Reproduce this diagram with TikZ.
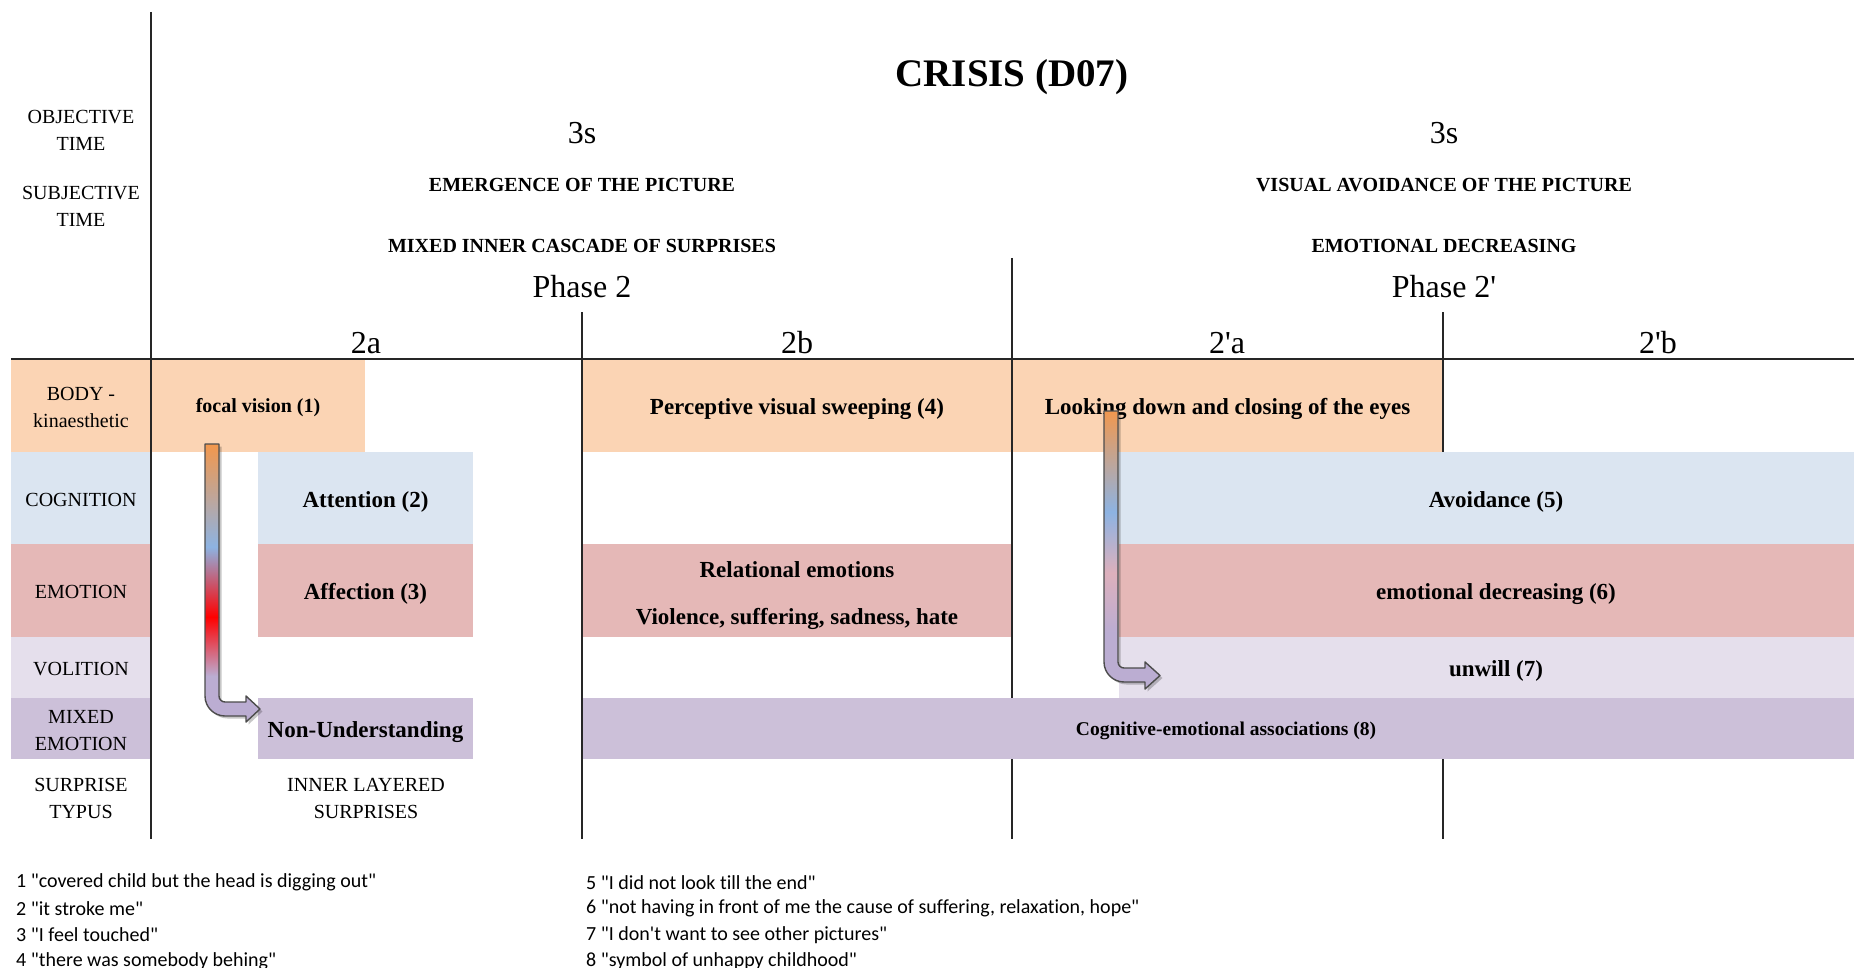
\documentclass[tikz,border=0pt]{standalone}
\usepackage{fontspec}
\setmainfont{Liberation Serif}[Ligatures=TeXOff]
\newfontfamily\notefont{Carlito}[Ligatures={TeXOff,NoCommon}]
\definecolor{bodyc}{HTML}{FBD4B4}
\definecolor{cogc}{HTML}{DBE5F1}
\definecolor{emoc}{HTML}{E5B8B7}
\definecolor{volc}{HTML}{E5DFEC}
\definecolor{mixc}{HTML}{CCC0D9}
\definecolor{arrorange}{HTML}{F79646}
\definecolor{arrblue}{HTML}{8DB3E2}
\definecolor{arrred}{HTML}{FF0000}
\definecolor{arrlav}{HTML}{BBADD2}
\definecolor{arrpink}{HTML}{DDB0BC}
\definecolor{linec}{HTML}{262626}
\def\arrowApath{(205,444) -- (219,444) -- (219,696) .. controls (219,699.3) and (221.7,702) .. (225,702) -- (246,702) -- (246,696) -- (260,709) -- (246,722) -- (246,716) -- (225,716) .. controls (214,716) and (205,707) .. (205,696) -- cycle}
\def\arrowBpath{(1104,411) -- (1118,411) -- (1118,662) .. controls (1118,665.3) and (1120.7,668) .. (1124,668) -- (1145,668) -- (1145,662) -- (1160,675.5) -- (1145,689) -- (1145,682) -- (1124,682) .. controls (1113,682) and (1104,673) .. (1104,662) -- cycle}
\begin{document}
\begin{tikzpicture}[x=1pt,y=-1pt,
  cell/.style={inner sep=0pt, outer sep=0pt, align=center, text=black},
  band/.style={cell, draw=none},
  lab/.style={cell, font=\fontsize{20}{27}\selectfont},
  rowlab/.style={lab, text height=16pt, text depth=0pt},
  rowlabtwo/.style={lab, text height=43pt, text depth=0pt},
  boldt/.style={cell, font=\fontsize{23}{47}\selectfont\bfseries, text height=20pt, text depth=2pt},
  boldtwo/.style={cell, font=\fontsize{23}{47}\selectfont\bfseries, text height=73pt, text depth=5pt},
  smallbold/.style={cell, font=\fontsize{20}{24}\selectfont\bfseries, text height=17pt, text depth=2.6pt},
  hdr/.style={cell, font=\fontsize{20}{24}\selectfont\bfseries},
  big/.style={cell, font=\fontsize{32}{36}\selectfont},
  note/.style={inner sep=0pt, anchor=west, font=\notefont\fontsize{20}{24}\selectfont},
  grid/.style={draw=linec, line width=1.5pt},
  arrowout/.style={draw=black!70, line width=1.4pt, line join=round},
  shadowc/.style={fill=black, opacity=0.22},
]
\path[use as bounding box] (0,0) rectangle (1854,968);

% label column
\node[band, rowlabtwo, fill=bodyc, minimum width=140, minimum height=93] (lbody) at (81,405.5) {BODY -\\kinaesthetic};
\node[band, rowlab, fill=cogc, minimum width=140, minimum height=92] (lcog) at (81,498) {COGNITION};
\node[band, rowlab, fill=emoc, minimum width=140, minimum height=93] (lemo) at (81,590.5) {EMOTION};
\node[band, rowlab, fill=volc, minimum width=140, minimum height=61] (lvol) at (81,667.5) {VOLITION};
\node[band, rowlabtwo, fill=mixc, minimum width=140, minimum height=61] (lmix) at (81,728.5) {MIXED\\EMOTION};

% boxes under grid lines
\node[band, smallbold, fill=bodyc, minimum width=214, minimum height=93] (focal) at (258,405.5) {focal vision (1)};
\node[band, boldt, fill=cogc, minimum width=215, minimum height=92] (attn) at (365.5,498) {Attention (2)};
\node[band, boldt, fill=emoc, minimum width=215, minimum height=93] (affe) at (365.5,590.5) {Affection (3)};
\node[band, boldt, fill=mixc, minimum width=215, minimum height=61] (nonund) at (365.5,728.5) {Non-Understanding};
\node[band, boldt, fill=bodyc, minimum width=430, minimum height=93] (percep) at (797,405.5) {Perceptive visual sweeping (4)};
\node[band, boldt, fill=bodyc, minimum width=431, minimum height=93] (looking) at (1227.5,405.5) {Looking down and closing of the eyes};
\node[band, boldtwo, fill=emoc, minimum width=430, minimum height=93] (relat) at (797,590.5) {Relational emotions\\Violence, suffering, sadness, hate};

% grid lines
\draw[grid] (151,12) -- (151,839);
\draw[grid] (582,312) -- (582,839);
\draw[grid] (1012,258) -- (1012,839);
\draw[grid] (1443,312) -- (1443,839);

% boxes over grid lines (right part runs past the page edge)
\node[band, boldt, fill=cogc, minimum width=754, minimum height=92] (avoid) at (1496,498) {Avoidance (5)};
\node[band, boldt, fill=emoc, minimum width=754, minimum height=93] (emodec) at (1496,590.5) {emotional decreasing (6)};
\node[band, boldt, fill=volc, minimum width=754, minimum height=61] (unwill) at (1496,667.5) {unwill (7)};
\node[band, smallbold, font=\fontsize{19.5}{24}\selectfont\bfseries, fill=mixc, minimum width=1286, minimum height=61] (cogemo) at (1226,728.5) {Cognitive-emotional associations (8)};

\draw[draw=linec, line width=2pt] (11,359) -- (1854,359);

% header texts
\node[cell, font=\fontsize{39}{44}\selectfont\bfseries] (title) at (1012,77) {CRISIS (D07)};
\node[lab] (objt) at (81,130) {OBJECTIVE\\TIME};
\node[lab] (subt) at (81,206) {SUBJECTIVE\\TIME};
\node[big] (tA) at (582,133) {3s};
\node[big] (tB) at (1444,133) {3s};
\node[hdr] (emerg) at (582,185) {EMERGENCE OF THE PICTURE};
\node[hdr] (visav) at (1444,185) {VISUAL AVOIDANCE OF THE PICTURE};
\node[hdr] (mixed) at (582,246) {MIXED INNER CASCADE OF SURPRISES};
\node[hdr] (emodecr) at (1444,246) {EMOTIONAL DECREASING};
\node[big] (ph2) at (582,287) {Phase 2};
\node[big] (ph2p) at (1444,287) {Phase 2'};
\node[big] (s2a) at (366,343) {2a};
\node[big] (s2b) at (797,343) {2b};
\node[big] (s2pa) at (1227,343) {2'a};
\node[big] (s2pb) at (1658,343) {2'b};
\node[lab] (surp) at (81,798) {SURPRISE\\TYPUS};
\node[lab] (inner) at (366,798) {INNER LAYERED\\SURPRISES};

% arrow 1
\fill[shadowc, shift={(2.5,2.5)}] \arrowApath;
\begin{scope}
  \clip \arrowApath;
  \shade[top color=arrorange, bottom color=arrblue] (200,440) rectangle (265,547);
  \shade[top color=arrblue, bottom color=arrred] (200,547) rectangle (265,617);
  \shade[top color=arrred, bottom color=arrlav] (200,617) rectangle (265,676);
  \fill[arrlav] (200,676) rectangle (265,725);
\end{scope}
\draw[arrowout] \arrowApath;

% arrow 2
\fill[shadowc, shift={(2.5,2.5)}] \arrowBpath;
\begin{scope}
  \clip \arrowBpath;
  \shade[top color=arrorange, bottom color=arrblue] (1100,405) rectangle (1165,512);
  \shade[top color=arrblue, bottom color=arrpink] (1100,512) rectangle (1165,573);
  \shade[top color=arrpink, bottom color=arrlav] (1100,573) rectangle (1165,632);
  \fill[arrlav] (1100,632) rectangle (1165,695);
\end{scope}
\draw[arrowout] \arrowBpath;

% footnotes
\node[note] (n1) at (16,882.5) {1 "covered child but the head is digging out"};
\node[note] (n2) at (16,908.5) {2 "it stroke me"};
\node[note] (n3) at (16,935) {3 "I feel touched"};
\node[note] (n4) at (16,961) {4 "there was somebody behing"};
\node[note] (n5) at (586,882.5) {5 "I did not look till the end"};
\node[note] (n6) at (586,908.5) {6 "not having in front of me the cause of suffering, relaxation, hope"};
\node[note] (n7) at (586,935) {7 "I don't want to see other pictures"};
\node[note] (n8) at (586,961) {8 "symbol of unhappy childhood"};
\end{tikzpicture}
\end{document}
